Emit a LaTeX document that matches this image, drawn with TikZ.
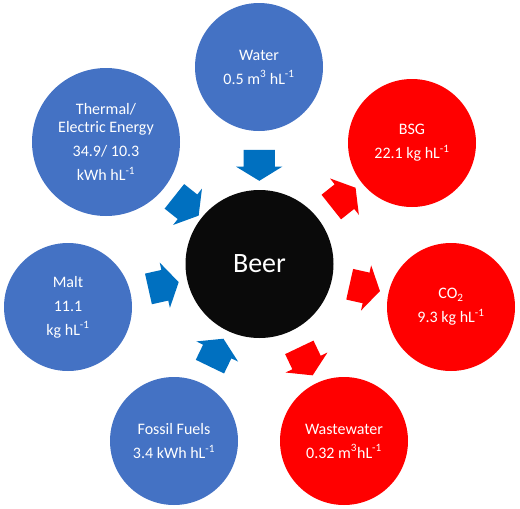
\documentclass[tikz,border=0pt]{standalone}
\usepackage{fontspec}
\setmainfont{Carlito}
\usepackage{tikz}
\usetikzlibrary{positioning,calc,shapes.arrows}
\pgfdeclarelayer{background}
\pgfdeclarelayer{foreground}
\pgfsetlayers{background,main,foreground}
\definecolor{brewinput}{RGB}{68,114,196}
\definecolor{brewoutput}{RGB}{255,0,0}
\definecolor{brewinarrow}{RGB}{0,112,192}
\definecolor{brewoutarrow}{RGB}{255,0,0}
\definecolor{brewbeer}{RGB}{10,10,10}
\tikzstyle{flownode} = [circle, text = white, inner sep = 0pt, align = center, font = \fontsize{16}{24}\selectfont]
\tikzstyle{flowsmall} = [minimum size = 128pt]
\tikzstyle{flowlarge} = [minimum size = 148pt]
\tikzstyle{flowin} = [fill = brewinput]
\tikzstyle{flowout} = [fill = brewoutput]
\tikzstyle{flowarrow} = [single arrow, sloped, allow upside down, midway, inner xsep = 0pt, inner ysep = 15.5pt, minimum height = 31pt, single arrow head extend = 7.5pt, single arrow tip angle = 117]
\tikzstyle{arrowin} = [flowarrow, fill = brewinarrow]
\tikzstyle{arrowout} = [flowarrow, fill = brewoutarrow]
\begin{document}
\begin{tikzpicture}
\useasboundingbox (0pt, 0pt) rectangle (520pt, -509pt);
\node[flownode, flowlarge, fill = brewbeer, font = \fontsize{28}{34}\selectfont] (beer) at (259.5pt, -264pt) {Beer};
\node[flownode, flowsmall, flowin] (water) at (259pt, -67pt) {Water\\0.5 m\textsuperscript{3} hL\textsuperscript{-1}};
\node[flownode, flowlarge, flowin] (energy) at (106pt, -142pt) {Thermal/\\[-6pt]Electric Energy\\34.9/ 10.3\\kWh hL\textsuperscript{-1}};
\node[flownode, flowsmall, flowin] (malt) at (68pt, -307pt) {Malt\\11.1\\kg hL\textsuperscript{-1}};
\node[flownode, flowsmall, flowin] (fuels) at (174pt, -441pt) {Fossil Fuels\\3.4 kWh hL\textsuperscript{-1}};
\node[flownode, flowsmall, flowout] (bsg) at (412pt, -143pt) {BSG\\22.1 kg hL\textsuperscript{-1}};
\node[flownode, flowsmall, flowout] (co2) at (451pt, -307pt) {CO\textsubscript{2}\\9.3 kg hL\textsuperscript{-1}};
\node[flownode, flowsmall, flowout] (waste) at (344pt, -441pt) {Wastewater\\0.32 m\textsuperscript{3}hL\textsuperscript{-1}};
\begin{pgfonlayer}{background}
\path (water) -- (beer) node[arrowin] {};
\path (energy) -- (beer) node[arrowin] {};
\path (malt) -- (beer) node[arrowin] {};
\path (fuels) -- (beer) node[arrowin] {};
\path (beer) -- (bsg) node[arrowout] {};
\path (beer) -- (co2) node[arrowout] {};
\path (beer) -- (waste) node[arrowout] {};
\end{pgfonlayer}
\end{tikzpicture}
\end{document}
